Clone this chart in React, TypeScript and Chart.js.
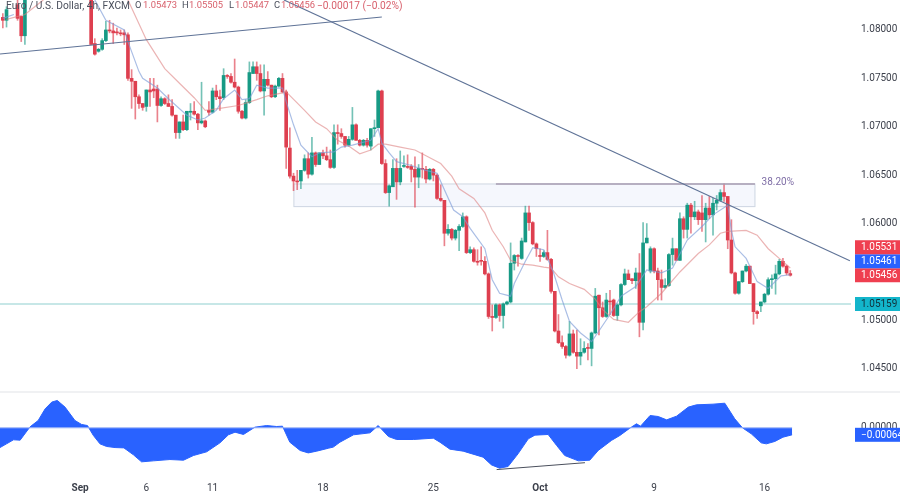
import React, { useEffect, useRef } from 'react';
import { Chart, registerables } from 'chart.js';

Chart.register(...registerables);

// prices are written x 10000, null = bar is above the top of the picture
const opens = [
  10812, 10809, null, null, 10825, 10813, 10793, null, null, null,
  null, null, null, null, null, null, null, null, null, null,
  null, null, null, null, 10835, 10785, 10777, 10779, 10788, 10799,
  10798, 10797, 10796, 10796, 10794, 10749, 10746, 10730, 10723, 10720,
  10737, 10738, 10738, 10721, 10728, 10723, 10720, 10711, 10693, 10704,
  10696, 10714, 10715, 10712, 10703, 10705, 10716, 10714, 10736, 10730,
  10729, 10752, 10751, 10745, 10740, 10715, 10708, 10724, 10754, 10761,
  10754, 10736, 10748, 10742, 10730, 10741, 10749, 10735, 10677, 10648,
  10643, 10643, 10654, 10666, 10650, 10672, 10660, 10672, 10669, 10665,
  10657, 10693, 10692, 10689, 10680, 10686, 10701, 10685, 10680, 10685,
  10679, 10697, 10698, 10736, 10661, 10631, 10637, 10656, 10642, 10658,
  10658, 10658, 10655, 10647, 10656, 10655, 10645, 10655, 10649, 10625,
  10623, 10589, 10593, 10584, 10592, 10596, 10606, 10569, 10572, 10560,
  10561, 10560, 10547, 10503, 10502, 10515, 10504, 10516, 10518, 10558,
  10566, 10563, 10580, 10610, 10600, 10578, 10566, 10565, 10569, 10562,
  10529, 10488, 10476, 10472, 10463, 10485, 10466, 10462, 10466, 10471,
  10470, 10486, 10525, 10512, 10503, 10519, 10520, 10504, 10515, 10536,
  10547, 10542, 10540, 10548, 10497, 10579, 10550, 10573, 10550, 10541,
  10533, 10535, 10567, 10573, 10561, 10604, 10593, 10618, 10606, 10611,
  10610, 10603, 10615, 10608, 10620, 10623, 10631, 10627, 10582, 10548,
  10527, 10539, 10550, 10555, 10537, 10508, 10514, 10518, 10526, 10541,
  10542, 10547, 10560, 10555, 10547.3,
];
const highs = [
  10816, 10823, null, null, 10830, 10813, 10838, null, null, null,
  null, null, null, null, null, null, null, null, null, null,
  null, null, null, null, 10838, 10790, 10780, 10790, 10808, 10809,
  10806, 10801, 10799, 10799, 10796, 10758, 10746, 10732, 10723, 10737,
  10749, 10749, 10742, 10730, 10729, 10732, 10727, 10711, 10704, 10711,
  10715, 10723, 10725, 10713, 10745, 10706, 10725, 10739, 10742, 10737,
  10759, 10753, 10754, 10769, 10741, 10716, 10727, 10766, 10766, 10766,
  10763, 10763, 10756, 10742, 10742, 10750, 10754, 10737, 10698, 10651,
  10654, 10654, 10670, 10672, 10688, 10673, 10672, 10675, 10678, 10675,
  10701, 10701, 10697, 10689, 10689, 10719, 10702, 10686, 10686, 10687,
  10697, 10706, 10737, 10737, 10665, 10639, 10665, 10666, 10674, 10669,
  10670, 10660, 10668, 10660, 10672, 10658, 10656, 10656, 10650, 10639,
  10623, 10598, 10594, 10593, 10598, 10610, 10607, 10575, 10574, 10572,
  10575, 10565, 10548, 10515, 10516, 10516, 10517, 10519, 10579, 10567,
  10567, 10584, 10617, 10617, 10601, 10579, 10573, 10571, 10592, 10563,
  10529, 10505, 10483, 10473, 10498, 10489, 10489, 10480, 10477, 10475,
  10487, 10532, 10525, 10518, 10527, 10530, 10521, 10516, 10537, 10552,
  10551, 10542, 10553, 10568, 10600, 10599, 10575, 10574, 10553, 10551,
  10542, 10568, 10584, 10573, 10610, 10606, 10620, 10620, 10622, 10613,
  10628, 10620, 10627, 10625, 10628, 10634, 10640, 10627, 10603, 10549,
  10539, 10550, 10557, 10555, 10537, 10509, 10518, 10527, 10543, 10546,
  10556, 10562, 10563, 10556, 10550.5,
];
const lows = [
  10801, 10802, null, null, 10809, 10787, 10784, null, null, null,
  null, null, null, null, null, null, null, null, null, null,
  null, null, null, null, 10784, 10773, 10776, 10778, 10787, 10796,
  10785, 10794, 10793, 10784, 10747, 10718, 10707, 10718, 10716, 10715,
  10720, 10729, 10704, 10720, 10722, 10720, 10710, 10687, 10687, 10695,
  10695, 10706, 10711, 10696, 10702, 10698, 10711, 10713, 10727, 10716,
  10727, 10749, 10744, 10739, 10713, 10707, 10707, 10723, 10754, 10747,
  10735, 10711, 10741, 10729, 10729, 10740, 10734, 10656, 10646, 10633,
  10634, 10635, 10653, 10646, 10649, 10658, 10660, 10666, 10664, 10656,
  10656, 10681, 10687, 10678, 10679, 10685, 10685, 10679, 10679, 10678,
  10675, 10689, 10698, 10660, 10630, 10617, 10637, 10624, 10639, 10657,
  10656, 10642, 10616, 10636, 10646, 10641, 10644, 10643, 10624, 10622,
  10576, 10587, 10582, 10582, 10571, 10595, 10568, 10568, 10559, 10556,
  10556, 10546, 10501, 10488, 10501, 10498, 10491, 10515, 10517, 10551,
  10555, 10562, 10580, 10592, 10577, 10565, 10560, 10564, 10561, 10527,
  10487, 10475, 10470, 10460, 10462, 10465, 10449, 10453, 10465, 10458,
  10452, 10485, 10484, 10502, 10502, 10505, 10503, 10499, 10514, 10535,
  10541, 10537, 10532, 10482, 10489, 10579, 10548, 10548, 10520, 10520,
  10532, 10534, 10556, 10561, 10561, 10584, 10584, 10589, 10603, 10598,
  10591, 10580, 10604, 10587, 10613, 10622, 10622, 10573, 10547, 10526,
  10526, 10538, 10549, 10537, 10495, 10501, 10508, 10517, 10525, 10532,
  10526, 10546, 10554, 10546, 10544.7,
];
const closes = [
  10809, 10820, null, null, 10811, 10793, 10835, null, null, null,
  null, null, null, null, null, null, null, null, null, null,
  null, null, null, null, 10784, 10774, 10779, 10788, 10799, 10798,
  10796, 10796, 10795, 10794, 10749, 10746, 10730, 10723, 10719, 10737,
  10735, 10736, 10721, 10728, 10723, 10720, 10711, 10693, 10704, 10696,
  10715, 10715, 10712, 10703, 10705, 10699, 10714, 10736, 10730, 10728,
  10752, 10751, 10745, 10740, 10715, 10708, 10724, 10755, 10761, 10754,
  10736, 10748, 10742, 10730, 10741, 10749, 10735, 10678, 10648, 10643,
  10642, 10654, 10666, 10650, 10672, 10660, 10672, 10669, 10665, 10657,
  10693, 10692, 10689, 10680, 10686, 10701, 10685, 10680, 10685, 10680,
  10697, 10698, 10736, 10661, 10631, 10638, 10656, 10642, 10656, 10659,
  10657, 10655, 10647, 10656, 10655, 10645, 10655, 10649, 10625, 10623,
  10589, 10593, 10584, 10592, 10596, 10606, 10569, 10572, 10560, 10559,
  10560, 10547, 10503, 10502, 10515, 10504, 10516, 10518, 10558, 10566,
  10565, 10581, 10610, 10600, 10578, 10573, 10565, 10569, 10562, 10529,
  10488, 10476, 10472, 10463, 10485, 10466, 10462, 10466, 10470, 10470,
  10486, 10524, 10512, 10503, 10520, 10518, 10504, 10515, 10536, 10547,
  10541, 10540, 10548, 10497, 10579, 10584, 10573, 10550, 10541, 10533,
  10535, 10567, 10573, 10561, 10604, 10593, 10618, 10606, 10611, 10603,
  10603, 10615, 10608, 10620, 10623, 10631, 10627, 10582, 10548, 10527,
  10539, 10550, 10555, 10537, 10508, 10506, 10518, 10526, 10541, 10542,
  10547, 10560, 10555, 10548, 10545.6,
];

const fastBars = [0, 3, 14, 25, 28, 33, 34, 37, 38, 42, 45, 50, 53, 55, 58, 60, 63, 65, 67, 69, 72, 76, 77, 79, 81, 84, 86, 90, 92, 95, 100, 102, 103, 105, 107, 111, 115, 118, 120, 122.5, 125, 127, 131, 133, 135, 138, 139, 142, 144, 147, 149.6, 152, 154, 157, 160, 162, 165, 168, 172, 175, 179, 182, 186, 190, 193, 197, 198, 199, 202, 205, 208, 211.5, 214];
const fastValues = [10811, 10815, null, 10830, 10809, 10799, 10787, 10756, 10749, 10739, 10728, 10711, 10706, 10708, 10716, 10728, 10737, 10727, 10728, 10742, 10739, 10739, 10725, 10701, 10680, 10668, 10672, 10673, 10678, 10680, 10685, 10697, 10682, 10672, 10663, 10659, 10654, 10651, 10634, 10613, 10606, 10594, 10573, 10541, 10527, 10524, 10537, 10560, 10574, 10572, 10549, 10520, 10498, 10486, 10477, 10488, 10505, 10524, 10534, 10551, 10548, 10553, 10582, 10596, 10608, 10618, 10592, 10575, 10563, 10539, 10532, 10545, 10546.1];
const slowBars = [1, 6, 11, 20, 34, 39, 44, 48, 52, 55, 59, 64, 69, 72, 76, 77, 82, 85, 88, 91, 94, 97, 100, 102, 104, 108, 112, 115, 119, 122, 124, 128, 131, 133, 136, 138, 141, 144, 147, 149, 151, 154, 158, 161, 163, 166, 170, 173, 175, 179, 184, 189, 192, 195, 197, 202, 205, 208, 211, 214];
const slowValues = [10810, 10815, 10830, null, 10830, 10789, 10759, 10744, 10729, 10716, 10718, 10721, 10727, 10731, 10734, 10735, 10716, 10704, 10697, 10685, 10679, 10671, 10675, 10681, 10681, 10678, 10675, 10669, 10661, 10648, 10635, 10625, 10610, 10592, 10575, 10561, 10557, 10556, 10554, 10553, 10544, 10537, 10531, 10521, 10510, 10500, 10497, 10508, 10513, 10527, 10549, 10568, 10577, 10589, 10591, 10592, 10587, 10573, 10563, 10553.1];

const oscBars = [-0.77, 1, 2.9, 4.7, 7.4, 9.6, 11.5, 13.3, 14.8, 16.9, 19.6, 21.4, 23, 24.6, 26.4, 28.2, 30.5, 32.9, 35.5, 37.7, 40.9, 45.4, 49.1, 51.8, 55.4, 59, 61.3, 63.1, 65.4, 68.5, 71.7, 74.4, 76, 78, 80.8, 83, 85.3, 88.5, 89.8, 91.6, 95.3, 99.8, 102, 104.8, 107, 111.6, 117, 118.8, 121.5, 125.1, 130.5, 132.8, 135, 137.3, 140, 142.8, 144.6, 148.2, 150.5, 152.7, 156.4, 159.5, 161.8, 165.4, 167.7, 170.4, 172.2, 173.3, 175.9, 178.1, 180.4, 183.1, 186.3, 188.5, 193, 196.2, 198.9, 201, 203.4, 206.1, 207.5, 209.8, 212, 214.5];
const oscValues = [-0.00181, -0.00147, -0.0011, -0.00113, 0.00009, 0.00067, 0.00174, 0.00236, 0.00251, 0.0019, 0.00067, 0.00031, 0.00021, -0.0007, -0.00147, -0.00171, -0.00181, -0.00184, -0.00248, -0.00312, -0.00303, -0.00291, -0.00297, -0.00254, -0.0022, -0.00138, -0.00064, -0.0004, -0.00061, 0.00006, 0.00021, 0.00012, 0.00015, -0.00132, -0.00208, -0.0023, -0.00214, -0.00187, -0.00177, -0.00132, -0.00064, -0.00046, 0.00021, -0.0008, -0.00107, -0.00107, -0.00095, -0.00132, -0.00196, -0.00214, -0.00269, -0.0034, -0.0037, -0.00355, -0.00239, -0.00101, -0.00067, -0.00061, -0.00162, -0.00254, -0.00303, -0.00297, -0.00208, -0.00116, -0.0007, -0.00003, 0.00037, 0.00015, 0.00113, 0.00104, 0.00073, 0.00107, 0.0019, 0.00211, 0.00217, 0.00226, 0.00083, 0, -0.00055, -0.00138, -0.00147, -0.00125, -0.00086, -0.00064];

const xTickBars = [21, 39, 57, 87, 117, 146, 177, 207];
const xTickLabels = ['Sep', '6', '11', '18', '25', 'Oct', '9', '16'];
const boldTicks = ['Sep', 'Oct'];
const priceTicks = [1.08, 1.075, 1.07, 1.065, 1.06, 1.05, 1.045];

const risingLineBars = [-0.77, 103];
const risingLinePrices = [1.07742, 1.08124];
const fallingLineBars = [76.4, 230.2];
const fallingLinePrices = [1.083, 1.05606];
const zoneBars = [79.1, 204.4];
const zonePrices = [1.06399, 1.06165];
const fibBars = [134, 204.4];
const divergenceBars = [134.2, 158.2];
const divergenceValues = [-0.00383, -0.0032];
const supportPrice = 1.05159;

const priceLabels = [
  { value: 1.05456, text: '1.05456', color: '#ef3f50', ink: '#ffffff' },
  { value: 1.05461, text: '1.05461', color: '#2962ff', ink: '#ffffff' },
  { value: 1.05531, text: '1.05531', color: '#ef3f50', ink: '#ffffff' },
];

const UP = '#179a85';
const DOWN = '#de3f4f';
const UP_WICK = 'rgba(23,154,133,0.6)';
const DOWN_WICK = 'rgba(222,63,79,0.65)';
const FONT = 'Roboto';
const X_MIN = -0.77;
const X_MAX = 230.5;

const bars = opens.map((_, i) => i).filter((i) => opens[i] !== null);
const price = (v: number | null) => (v === null ? null : v / 10000);
const zip = (xs: number[], ys: (number | null)[], f = (v: any) => v) => xs.map((x, i) => ({ x, y: f(ys[i]) }));
const isUp = (i: number) => (closes[i] as number) >= (opens[i] as number);

const overlay = {
  id: 'overlay',
  beforeDatasetsDraw(chart: any) {
    const { ctx, scales } = chart;
    const left = scales.x.getPixelForValue(zoneBars[0]);
    const right = scales.x.getPixelForValue(zoneBars[1]);
    const top = scales.y.getPixelForValue(zonePrices[0]);
    const bottom = scales.y.getPixelForValue(zonePrices[1]);
    ctx.save();
    ctx.fillStyle = '#f5f7fd';
    ctx.strokeStyle = '#ced6e2';
    ctx.lineWidth = 1;
    ctx.fillRect(left, top, right - left, bottom - top);
    ctx.strokeRect(left, top, right - left, bottom - top);
    // pane separator
    ctx.fillStyle = '#f0f1f3';
    ctx.fillRect(0, 391, 900, 2);
    ctx.restore();
  },
  afterDraw(chart: any) {
    const { ctx, scales } = chart;
    ctx.save();
    ctx.textBaseline = 'middle';
    ctx.textAlign = 'left';

    // header
    const gray = '#4a4f5c';
    const red = '#d8606c';
    ctx.font = `10.2px ${FONT}`;
    ctx.fillStyle = gray;
    ctx.fillText('Euro / U.S. Dollar, 4h, FXCM', 6, 6);
    ctx.font = `9.4px ${FONT}`;
    const parts: [string, number, string][] = [
      ['O', 135, gray], ['1.05473', 143, red],
      ['H', 182, gray], ['1.05505', 189, red],
      ['L', 229, gray], ['1.05447', 235, red],
      ['C', 274, gray], ['1.05456', 281, red],
    ];
    parts.forEach(([text, x, color]) => {
      ctx.fillStyle = color;
      ctx.fillText(text, x, 6);
    });
    ctx.font = `10.2px ${FONT}`;
    ctx.fillStyle = red;
    ctx.fillText('−0.00017 (−0.02%)', 317, 6);

    // fib label
    ctx.fillStyle = '#7f6ea6';
    ctx.font = `10px ${FONT}`;
    ctx.fillText('38.20%', scales.x.getPixelForValue(206.2), scales.y.getPixelForValue(zonePrices[0]) - 1);

    // last value tags on the axis, stacked upward when they would overlap
    const boxH = 14;
    const tag = (text: string, y: number, color: string, ink: string) => {
      ctx.fillStyle = color;
      ctx.fillRect(855, y - boxH / 2, 45, boxH);
      ctx.fillStyle = ink;
      ctx.font = `10px ${FONT}`;
      ctx.fillText(text, 861, y + 0.5);
    };
    let prev = Infinity;
    priceLabels.forEach((l) => {
      const y = Math.min(scales.y.getPixelForValue(l.value), prev - boxH);
      tag(l.text, y, l.color, l.ink);
      prev = y;
    });
    tag('1.05159', scales.y.getPixelForValue(supportPrice), '#13b5cb', '#12303a');

    ctx.fillStyle = '#3b3f4a';
    ctx.fillText('0.00000', 861, scales.osc.getPixelForValue(0));
    tag('−0.00064', scales.osc.getPixelForValue(-0.00064), '#2962ff', '#ffffff');
    ctx.restore();
  },
};

export default function App() {
  const canvasRef = useRef<HTMLCanvasElement>(null);

  useEffect(() => {
    const ctx = canvasRef.current?.getContext('2d');
    if (!ctx) return;

    const line = (data: any[], color: string, width: number, extra: any = {}) => ({
      type: 'line',
      data,
      borderColor: color,
      borderWidth: width,
      pointRadius: 0,
      yAxisID: 'y',
      order: 1,
      ...extra,
    });

    const chart = new Chart(ctx, {
      type: 'bar',
      data: {
        datasets: [
          line(zip(fallingLineBars, fallingLinePrices), '#5f7397', 1.1),
          line(zip(risingLineBars, risingLinePrices), '#5f7397', 1.1),
          line(zip(fibBars, [zonePrices[0], zonePrices[0]]), '#a79cb2', 1.4),
          line(zip(divergenceBars, divergenceValues), '#4a4f5c', 1, { yAxisID: 'osc' }),
          line(zip(fastBars, fastValues, price), 'rgba(125,155,215,0.65)', 1.2, { order: 2 }),
          line(zip(slowBars, slowValues, price), 'rgba(222,130,130,0.6)', 1.2, { order: 2 }),
          {
            type: 'bar',
            data: bars.map((i) => ({ x: i, y: [price(opens[i]), price(closes[i])] })),
            backgroundColor: bars.map((i) => (isUp(i) ? UP : DOWN)),
            barThickness: 3,
            minBarLength: 1,
            grouped: false,
            yAxisID: 'y',
            order: 3,
          },
          {
            type: 'bar',
            data: bars.map((i) => ({ x: i, y: [price(lows[i]), price(highs[i])] })),
            backgroundColor: bars.map((i) => (isUp(i) ? UP_WICK : DOWN_WICK)),
            barThickness: 1,
            grouped: false,
            yAxisID: 'y',
            order: 4,
          },
          line(zip([X_MIN, X_MAX], [supportPrice, supportPrice]), '#8fd0cf', 1.2, { order: 5 }),
          line(zip([X_MIN, 214.5], [0, 0]), '#9fb6f7', 1, { yAxisID: 'osc', order: 1 }),
          line(zip(oscBars, oscValues), '#2962ff', 1, {
            yAxisID: 'osc',
            fill: 'origin',
            backgroundColor: '#2962ff',
            order: 2,
          }),
        ] as any,
      },
      options: {
        animation: false,
        responsive: false,
        devicePixelRatio: 1,
        layout: { padding: 0 },
        plugins: { legend: { display: false }, tooltip: { enabled: false } },
        scales: {
          x: {
            type: 'linear',
            min: X_MIN,
            max: X_MAX,
            offset: false,
            grid: { display: false, drawTicks: false },
            border: { display: false },
            afterBuildTicks: (scale: any) => {
              scale.ticks = xTickBars.map((value) => ({ value }));
            },
            afterFit: (scale: any) => {
              scale.height = 18;
              scale.paddingLeft = 0;
              scale.paddingRight = 0;
            },
            ticks: {
              autoSkip: false,
              maxRotation: 0,
              padding: 6,
              color: '#3b3f4a',
              callback: (value: any) => xTickLabels[xTickBars.indexOf(value)],
              font: (c: any) => ({
                family: FONT,
                size: 10,
                weight: boldTicks.includes(xTickLabels[xTickBars.indexOf(c.tick?.value)]) ? 'bold' : 'normal',
              }),
            },
          },
          y: {
            position: 'right',
            min: 1.03382,
            max: 1.082996,
            grid: { display: false, drawTicks: false },
            border: { display: false },
            afterBuildTicks: (scale: any) => {
              scale.ticks = priceTicks.map((value) => ({ value }));
            },
            afterFit: (scale: any) => {
              scale.width = 49;
              scale.paddingTop = 0;
              scale.paddingBottom = 0;
            },
            ticks: {
              padding: 10,
              labelOffset: 1,
              color: '#3b3f4a',
              font: { family: FONT, size: 10 },
              callback: (value: any) => Number(value).toFixed(5),
            },
          },
          osc: {
            display: false,
            position: 'right',
            min: -0.00442,
            max: 0.03925,
          },
        },
      } as any,
      plugins: [overlay as any],
    });

    return () => chart.destroy();
  }, []);

  return (
    <div style={{ position: 'absolute', left: 0, top: 0 }}>
      <canvas ref={canvasRef} width={900} height={494} style={{ display: 'block' }} />
    </div>
  );
}
